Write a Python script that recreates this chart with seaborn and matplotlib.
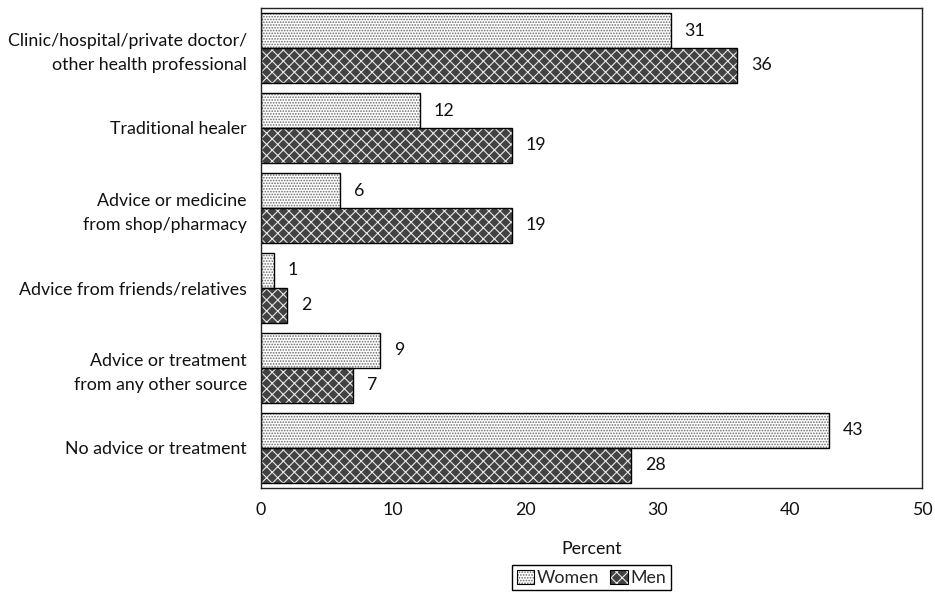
import matplotlib
matplotlib.use("Agg")
import matplotlib.pyplot as plt
from matplotlib.patches import Patch, Rectangle
import seaborn as sns
import pandas as pd

categories = [
    "Clinic/hospital/private doctor/\nother health professional",
    "Traditional healer",
    "Advice or medicine\nfrom shop/pharmacy",
    "Advice from friends/relatives",
    "Advice or treatment\nfrom any other source",
    "No advice or treatment",
]
women = [31, 12, 6, 1, 9, 43]
men = [36, 19, 19, 2, 7, 28]
x_ticks = [0, 10, 20, 30, 40, 50]

df = pd.DataFrame({
    "source": categories * 2,
    "percent": women + men,
    "sex": ["Women"] * len(categories) + ["Men"] * len(categories),
})

sns.set_theme(style="white")
plt.rcParams["font.family"] = ["Lato", "DejaVu Sans"]
plt.rcParams["hatch.linewidth"] = 0.8

FS = 12.8
TXT = "#111111"

fig = plt.figure(figsize=(9.35, 5.92), dpi=100)
ax = fig.add_axes([0.279, 0.176, 0.707, 0.8105])

sns.barplot(data=df, y="source", x="percent", hue="sex", orient="h",
            order=categories, hue_order=["Women", "Men"],
            width=0.87, ax=ax, legend=False, saturation=1)

women_bars, men_bars = ax.containers[0], ax.containers[1]

women_face, women_hatch = "#ffffff", "#6a6a6a"
men_face, men_hatch = "#424242", "#e8e8e8"

for bar in women_bars:
    bar.set_facecolor(women_face)
    bar.set_edgecolor(women_hatch)
    bar.set_hatch("......")
    bar.set_linewidth(0)
for bar in men_bars:
    bar.set_facecolor(men_face)
    bar.set_edgecolor(men_hatch)
    bar.set_hatch("xxx")
    bar.set_linewidth(0)

# black outline drawn over each hatched bar
for cont in (women_bars, men_bars):
    for bar in cont:
        ax.add_patch(Rectangle(bar.get_xy(), bar.get_width(), bar.get_height(),
                               fill=False, edgecolor="black", linewidth=1.0,
                               zorder=bar.get_zorder() + 0.1))

ax.bar_label(women_bars, labels=[str(v) for v in women], padding=10,
             fontsize=FS, color=TXT)
ax.bar_label(men_bars, labels=[str(v) for v in men], padding=10,
             fontsize=FS, color=TXT)

ax.set_xlim(0, 50)
ax.set_ylim(5.5, -0.5)
ax.set_xticks(x_ticks)
ax.set_xticklabels([str(t) for t in x_ticks], fontsize=FS, color=TXT)
ax.tick_params(axis="x", length=0, pad=10)
ax.tick_params(axis="y", length=0, pad=10)
for lbl in ax.get_yticklabels():
    lbl.set_fontsize(FS)
    lbl.set_color(TXT)
    lbl.set_multialignment("right")
    lbl.set_linespacing(1.55)
ax.set_ylabel("")
ax.set_xlabel("Percent", fontsize=FS, color=TXT, labelpad=17)

for side in ax.spines.values():
    side.set_visible(True)
    side.set_color("#222222")
    side.set_linewidth(1.0)

women_handle = (Patch(facecolor=women_face, edgecolor=women_hatch, hatch="......", linewidth=0),
                Patch(fill=False, edgecolor="black", linewidth=0.8))
men_handle = (Patch(facecolor=men_face, edgecolor=men_hatch, hatch="xxx", linewidth=0),
              Patch(fill=False, edgecolor="black", linewidth=0.8))
leg = ax.legend([women_handle, men_handle], ["Women", "Men"], ncol=2,
                loc="center", bbox_to_anchor=(0.5, -0.1875),
                fontsize=FS, frameon=True, fancybox=False, edgecolor="black",
                framealpha=1, handlelength=1.0, handleheight=0.85,
                handletextpad=0.15, columnspacing=0.6, borderpad=0.25)
leg.get_frame().set_linewidth(1.0)

fig.savefig("out.png", dpi=100)
